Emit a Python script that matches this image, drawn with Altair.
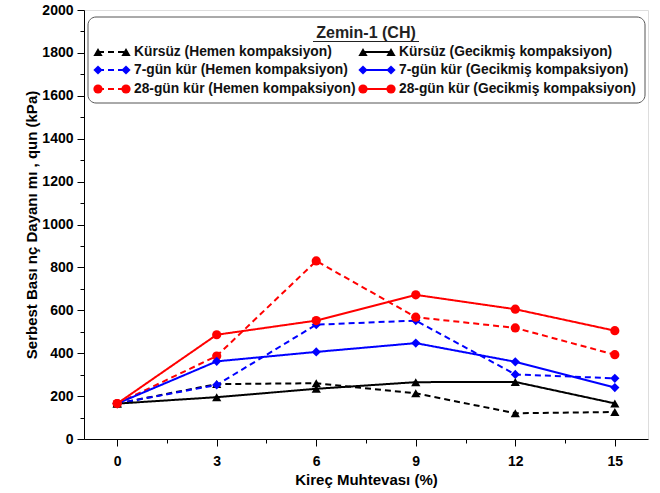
import altair as alt
import pandas as pd

# ---- data ----
kirec = [0, 3, 6, 9, 12, 15]
kursuz_hemen = [165, 256, 260, 213, 120, 126]
kursuz_gecikmis = [165, 195, 234, 265, 266, 166]
gun7_hemen = [165, 252, 533, 552, 301, 283]
gun7_gecikmis = [165, 362, 406, 447, 360, 240]
gun28_hemen = [165, 387, 830, 568, 518, 393]
gun28_gecikmis = [165, 486, 552, 672, 605, 505]

series_names = [
    "Kürsüz (Hemen kompaksiyon)",
    "7-gün kür (Hemen kompaksiyon)",
    "28-gün kür (Hemen kompaksiyon)",
    "Kürsüz (Gecikmiş kompaksiyon)",
    "7-gün kür (Gecikmiş kompaksiyon)",
    "28-gün kür (Gecikmiş kompaksiyon)",
]
series_values = [kursuz_hemen, gun7_hemen, gun28_hemen,
                 kursuz_gecikmis, gun7_gecikmis, gun28_gecikmis]
series_colors = ["#000000", "#0000ff", "#ff0000", "#000000", "#0000ff", "#ff0000"]
series_shapes = ["triangle-up", "diamond", "circle", "triangle-up", "diamond", "circle"]
series_dash = ["dashed", "dashed", "dashed", "solid", "solid", "solid"]
series_size = [85, 85, 150, 85, 85, 150]

y_major = list(range(0, 2001, 200))
y_minor = list(range(100, 2000, 200))
x_major = [0, 3, 6, 9, 12, 15]
x_minor = [1.5, 4.5, 7.5, 10.5, 13.5]

FONT = "Liberation Sans"
W, H = 564, 429

rows = []
for name, vals, d in zip(series_names, series_values, series_dash):
    for k, v in zip(kirec, vals):
        rows.append({"series": name, "x": k, "y": v, "dash": d})
df = pd.DataFrame(rows)

xscale = alt.Scale(domain=[-1, 16], nice=False, zero=False)
yscale = alt.Scale(domain=[0, 2000], nice=False)

color = alt.Color("series:N", scale=alt.Scale(domain=series_names, range=series_colors), legend=None)
shape = alt.Shape("series:N", scale=alt.Scale(domain=series_names, range=series_shapes), legend=None)
size = alt.Size("series:N", scale=alt.Scale(domain=series_names, range=series_size), legend=None)
dash = alt.StrokeDash("dash:N", scale=alt.Scale(domain=["dashed", "solid"], range=[[6, 4], [1, 0]]), legend=None)

X = alt.X("x:Q", scale=xscale,
          axis=alt.Axis(values=x_major, title="Kireç Muhtevası (%)", grid=False,
                        orient="bottom",
                        labelFont=FONT, labelFontSize=14, labelFontWeight="bold",
                        labelColor="black", titleFont=FONT, titleFontSize=15,
                        titleFontWeight="bold", titleColor="black", tickSize=7,
                        tickColor="black", domainColor="black", labelPadding=8,
                        titlePadding=4))
Y = alt.Y("y:Q", scale=yscale,
          axis=alt.Axis(values=y_major, title="Serbest Bası nç Dayanı mı , qun (kPa)",
                        orient="left",
                        format="d", grid=False, labelFont=FONT, labelFontSize=14,
                        labelFontWeight="bold", labelColor="black", titleFont=FONT,
                        titleFontSize=15, titleFontWeight="bold", titleColor="black",
                        tickSize=7, tickColor="black", domainColor="black",
                        labelPadding=4, titlePadding=2))

lines = alt.Chart(df).mark_line(strokeWidth=2).encode(
    x=X, y=Y, color=color, strokeDash=dash, detail="series:N")
points = alt.Chart(df).mark_point(filled=True, opacity=1).encode(
    x=alt.X("x:Q", scale=xscale, axis=None), y=alt.Y("y:Q", scale=yscale, axis=None),
    color=color, shape=shape, size=size)

# minor-tick axes (no labels) sharing the same scales
minor_df = pd.DataFrame({"x": [x_minor[0]], "y": [y_minor[0]]})
minor = alt.Chart(minor_df).mark_point(opacity=0).encode(
    x=alt.X("x:Q", scale=xscale,
            axis=alt.Axis(orient="bottom", values=x_minor, labels=False, domain=False,
                          grid=False, title=None, tickSize=4, tickColor="black")),
    y=alt.Y("y:Q", scale=yscale,
            axis=alt.Axis(orient="left", values=y_minor, labels=False, domain=False,
                          grid=False, title=None, tickSize=4, tickColor="black")))

# ---- custom legend (pixel positions within plot area) ----
leg_x1 = [14, 14, 14, 279, 279, 279]
leg_x2 = [42, 42, 42, 307, 307, 307]
leg_y = [42, 60, 79, 42, 60, 79]
leg = pd.DataFrame({
    "series": series_names, "x1": leg_x1, "x2": leg_x2, "y": leg_y,
    "dash": series_dash,
})
leg["tx"] = leg["x2"] + 8

box = alt.Chart(pd.DataFrame({"a": [0]})).mark_rect(
    fill="white", stroke="#555555", strokeWidth=1, cornerRadius=8).encode(
    x=alt.value(4), x2=alt.value(561), y=alt.value(7), y2=alt.value(93))
title_txt = alt.Chart(pd.DataFrame({"t": ["Zemin-1 (CH)"]})).mark_text(
    font=FONT, fontSize=16, fontWeight="bold", color="#222222", align="center",
    baseline="middle").encode(text="t:N", x=alt.value(282), y=alt.value(23))
underline = alt.Chart(pd.DataFrame({"a": [0]})).mark_rule(color="#222222", strokeWidth=1.2).encode(
    x=alt.value(229), x2=alt.value(335), y=alt.value(31.5))

lx1 = alt.X("x1:Q", scale=None, axis=None)
ly = alt.Y("y:Q", scale=None, axis=None)
leg_lines = alt.Chart(leg).mark_rule(strokeWidth=2).encode(
    x=lx1, x2="x2:Q", y=ly, color=color, strokeDash=dash)
leg_p1 = alt.Chart(leg).mark_point(filled=True, opacity=1).encode(
    x=lx1, y=ly, color=color, shape=shape, size=size)
leg_p2 = alt.Chart(leg).mark_point(filled=True, opacity=1).encode(
    x=alt.X("x2:Q", scale=None, axis=None), y=ly, color=color, shape=shape, size=size)
leg_text = alt.Chart(leg).mark_text(
    font=FONT, fontSize=13.8, fontWeight="bold", color="#111111", align="left",
    baseline="middle").encode(x=alt.X("tx:Q", scale=None, axis=None), y=ly, text="series:N")

chart = alt.layer(
    lines, points, minor, box, title_txt, underline,
    leg_lines, leg_p1, leg_p2, leg_text
).resolve_axis(x="independent", y="independent").properties(
    width=W, height=H,
    autosize=alt.AutoSizeParams(type="none"),
    padding={"left": 84, "top": 10, "right": 12, "bottom": 54},
).configure_view(stroke="black", strokeWidth=1.5).configure(background="white")

chart.save("out.html", embed_options={"renderer": "svg", "actions": False})
